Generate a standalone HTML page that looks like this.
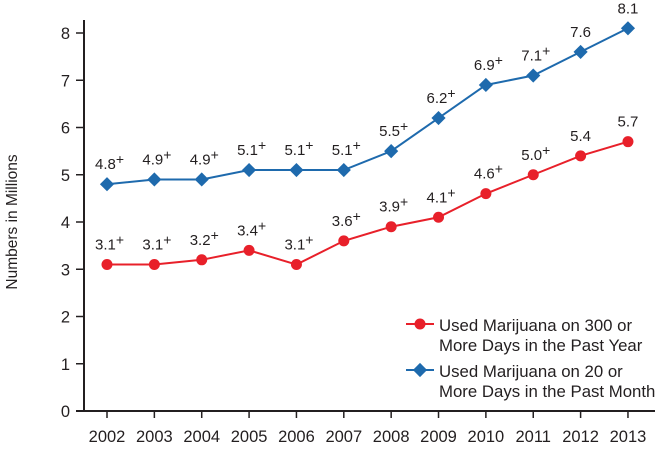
<!DOCTYPE html>
<html><head><style>body{margin:0;background:#fff}</style></head><body>
<svg width="660" height="447" xmlns="http://www.w3.org/2000/svg" font-family="Liberation Sans, sans-serif" fill="#231f20">
<g stroke="#231f20" stroke-width="2">
<line x1="84" y1="20" x2="84" y2="412"/>
<line x1="76" y1="411" x2="655" y2="411"/>
</g>
<g stroke="#231f20" stroke-width="1.5" id="ticks"></g>
<g font-size="16.5" text-anchor="end" id="ylab"></g>
<g font-size="16.5" text-anchor="middle" id="xlab"></g>
<text transform="translate(17,222) rotate(-90)" font-size="15.5" text-anchor="middle">Numbers in Millions</text>
<g id="series"></g>
<line x1="406" y1="324" x2="434" y2="324" stroke="#e8202a" stroke-width="2"/>
<circle cx="420" cy="324" r="5.5" fill="#e8202a"/>
<line x1="406" y1="370" x2="434" y2="370" stroke="#1e6aad" stroke-width="2"/>
<rect x="415" y="365" width="10" height="10" fill="#1e6aad" transform="rotate(45 420 370)"/>
<g font-size="16.8">
<text x="439" y="331">Used Marijuana on 300 or</text>
<text x="439" y="351">More Days in the Past Year</text>
<text x="439" y="377">Used Marijuana on 20 or</text>
<text x="439" y="397">More Days in the Past Month</text>
</g>
</svg>
<script>
const NS="http://www.w3.org/2000/svg";
function el(p,t,a,txt){const e=document.createElementNS(NS,t);for(const k in a)e.setAttribute(k,a[k]);if(txt!==undefined)e.textContent=txt;(typeof p=="string"?document.getElementById(p):p).appendChild(e);return e;}
const X=i=>107+i*47.36, Y=v=>411-v*47.25;
for(let v=0;v<=8;v++){el("ticks","line",{x1:76,x2:84,y1:Y(v),y2:Y(v)});el("ylab","text",{x:70,y:Y(v)+6},v);}
for(let i=0;i<12;i++){el("ticks","line",{x1:X(i),x2:X(i),y1:411,y2:418});el("xlab","text",{x:X(i),y:442},2002+i);}
const red=[[3.1,1],[3.1,1],[3.2,1],[3.4,1],[3.1,1],[3.6,1],[3.9,1],[4.1,1],[4.6,1],[5.0,1],[5.4,0],[5.7,0]];
const blue=[[4.8,1],[4.9,1],[4.9,1],[5.1,1],[5.1,1],[5.1,1],[5.5,1],[6.2,1],[6.9,1],[7.1,1],[7.6,0],[8.1,0]];
function draw(d,c,m){
 el("series","polyline",{points:d.map((p,i)=>X(i)+","+Y(p[0])).join(" "),fill:"none",stroke:c,"stroke-width":2});
 d.forEach((p,i)=>{const x=X(i),y=Y(p[0]);
  if(m)el("series","circle",{cx:x,cy:y,r:5.5,fill:c});
  else el("series","rect",{x:x-5,y:y-5,width:10,height:10,fill:c,transform:`rotate(45 ${x} ${y})`});
  const t=el("series","text",{x:x,y:y-15,"font-size":15,"text-anchor":"start"},p[0].toFixed(1));
  if(p[1]){el(t,"tspan",{dy:-5,"font-size":14},"+");t.setAttribute("x",x-12);}else{t.setAttribute("text-anchor","middle");}
 });
}
draw(red,"#e8202a",1);draw(blue,"#1e6aad",0);
</script>
</body></html>
